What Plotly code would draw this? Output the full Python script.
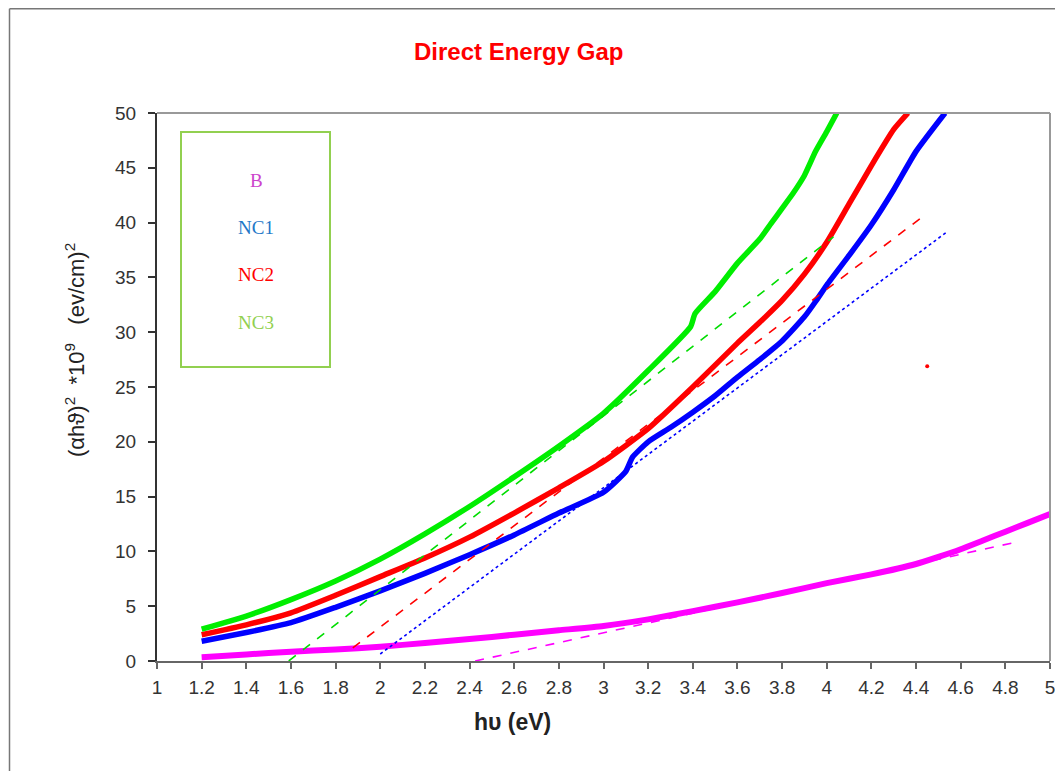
import plotly.graph_objects as go

# ---- data ----
x_b = [1.2, 1.4, 1.6, 1.8, 2.0, 2.2, 2.4, 2.6, 2.8, 3.0, 3.2, 3.4, 3.6, 3.8, 4.0, 4.2, 4.4, 4.5, 4.6, 4.7, 4.8, 4.9, 5.0]
y_b = [0.35, 0.6, 0.85, 1.05, 1.3, 1.65, 2.0, 2.4, 2.8, 3.2, 3.8, 4.55, 5.35, 6.2, 7.1, 7.9, 8.85, 9.5, 10.2, 11.0, 11.8, 12.6, 13.4]

x_nc1 = [1.2, 1.4, 1.6, 1.8, 2.0, 2.2, 2.4, 2.6, 2.8, 3.0, 3.1, 3.13, 3.2, 3.3, 3.4, 3.5, 3.6, 3.7, 3.8, 3.9, 3.95, 4.0, 4.1, 4.2, 4.3, 4.4, 4.53]
y_nc1 = [1.8, 2.6, 3.5, 4.9, 6.4, 8.0, 9.7, 11.5, 13.5, 15.4, 17.3, 18.6, 20.0, 21.3, 22.7, 24.2, 25.9, 27.5, 29.2, 31.4, 32.8, 34.3, 37.0, 39.8, 43.0, 46.5, 50.0]

x_nc2 = [1.2, 1.4, 1.6, 1.8, 2.0, 2.2, 2.4, 2.6, 2.8, 3.0, 3.2, 3.4, 3.6, 3.7, 3.8, 3.9, 4.0, 4.1, 4.2, 4.3, 4.364]
y_nc2 = [2.4, 3.3, 4.4, 6.0, 7.7, 9.4, 11.3, 13.5, 15.8, 18.2, 21.2, 25.0, 29.0, 30.9, 32.9, 35.3, 38.2, 41.7, 45.2, 48.5, 50.0]

x_nc3 = [1.2, 1.4, 1.6, 1.8, 2.0, 2.2, 2.4, 2.6, 2.8, 3.0, 3.2, 3.39, 3.41, 3.5, 3.6, 3.7, 3.75, 3.8, 3.85, 3.9, 3.95, 4.0, 4.045]
y_nc3 = [2.9, 4.1, 5.6, 7.3, 9.3, 11.6, 14.1, 16.8, 19.6, 22.6, 26.5, 30.5, 31.7, 33.7, 36.3, 38.5, 39.9, 41.3, 42.7, 44.3, 46.5, 48.3, 50.0]

# linear fits (tangent lines)
fit_b_x = [2.425, 4.86]
fit_b_y = [0.0, 10.9]
fit_nc1_x = [2.0, 4.535]
fit_nc1_y = [0.64, 39.1]
fit_nc2_x = [1.877, 4.44]
fit_nc2_y = [1.2, 40.7]
fit_nc3_x = [1.59, 4.03]
fit_nc3_y = [0.0, 38.7]

stray_x = [4.45]
stray_y = [26.9]

legend_labels = ["B", "NC1", "NC2", "NC3"]
legend_colors = ["#cc44cc", "#1e78c8", "#ff0000", "#92d050"]

x_ticks = [round(1 + 0.2 * i, 1) for i in range(21)]
x_tick_text = ["1", "1.2", "1.4", "1.6", "1.8", "2", "2.2", "2.4", "2.6", "2.8", "3",
               "3.2", "3.4", "3.6", "3.8", "4", "4.2", "4.4", "4.6", "4.8", "5"]
y_ticks = [0, 5, 10, 15, 20, 25, 30, 35, 40, 45, 50]

fig = go.Figure()

curves = [
    (x_b, y_b, "#ff00ff", 6),
    (x_nc1, y_nc1, "#0000ff", 5.5),
    (x_nc2, y_nc2, "#ff0000", 5.5),
    (x_nc3, y_nc3, "#00ee00", 5.5),
]
for xs, ys, col, w in curves:
    fig.add_trace(go.Scatter(x=xs, y=ys, mode="lines",
                             line=dict(color=col, width=w, shape="spline", smoothing=0.5),
                             showlegend=False, hoverinfo="skip"))

fits = [
    (fit_b_x, fit_b_y, "#ff00ff", "dash"),
    (fit_nc1_x, fit_nc1_y, "#0000ff", "dot"),
    (fit_nc2_x, fit_nc2_y, "#ff0000", "dash"),
    (fit_nc3_x, fit_nc3_y, "#00dd00", "dash"),
]
for xs, ys, col, d in fits:
    fig.add_trace(go.Scatter(x=xs, y=ys, mode="lines",
                             line=dict(color=col, width=1.6, dash=d),
                             showlegend=False, hoverinfo="skip"))

fig.add_trace(go.Scatter(x=stray_x, y=stray_y, mode="markers",
                         marker=dict(color="#ff0000", size=4),
                         showlegend=False, hoverinfo="skip"))

# page offset of the figure (browser body margin)
OFF = 8
W, H = 1063 - OFF, 771 - OFF
L, R, T, B = 157 - OFF, 13, 113 - OFF, 110
pw = W - L - R
ph = H - T - B


def px(xp):
    return (xp - OFF - L) / pw


def py(yp):
    return (H - B - (yp - OFF)) / ph


shapes = [
    # outer frame lines
    dict(type="line", xref="paper", yref="paper", x0=px(9.5), x1=px(9.5), y0=py(8.8), y1=py(780),
         line=dict(color="#777777", width=1.5)),
    dict(type="line", xref="paper", yref="paper", x0=px(9.5), x1=px(1070), y0=py(8.8), y1=py(8.8),
         line=dict(color="#777777", width=1.5)),
    # top and right plot border
    dict(type="line", xref="paper", yref="paper", x0=0, x1=1, y0=1, y1=1,
         line=dict(color="#999999", width=2)),
    dict(type="line", xref="paper", yref="paper", x0=1, x1=1, y0=0, y1=1,
         line=dict(color="#999999", width=2)),
    # legend box
    dict(type="rect", xref="paper", yref="paper", x0=px(181), x1=px(330), y0=py(367), y1=py(132),
         line=dict(color="#92d050", width=2), fillcolor="rgba(0,0,0,0)"),
]

annotations = [
    dict(text="<b>Direct Energy Gap</b>", xref="paper", yref="paper", x=px(518), y=py(52),
         showarrow=False, font=dict(family="Arial, Liberation Sans", size=24, color="#ff0000"),
         xanchor="center", yanchor="middle"),
    dict(text="<b>hυ (eV)</b>", xref="paper", yref="paper", x=px(512), y=py(722),
         showarrow=False, font=dict(family="Arial, Liberation Sans", size=23, color="#222222"),
         xanchor="center", yanchor="middle"),
    dict(text="(αhϑ)<sup>2</sup>  *10<sup>9</sup>   (ev/cm)<sup>2</sup>", xref="paper", yref="paper",
         x=px(75), y=py(350), textangle=-90,
         showarrow=False, font=dict(family="Arial, Liberation Sans", size=22, color="#222222"),
         xanchor="center", yanchor="middle"),
]
legend_y = [180, 227, 274, 322]
for lab, col, yy in zip(legend_labels, legend_colors, legend_y):
    annotations.append(dict(text=lab, xref="paper", yref="paper", x=px(256), y=py(yy),
                            showarrow=False, xanchor="center", yanchor="middle",
                            font=dict(family="Times New Roman, Liberation Serif", size=19, color=col)))

fig.update_layout(
    width=W, height=H,
    margin=dict(l=L, r=R, t=T, b=B, autoexpand=False),
    paper_bgcolor="white", plot_bgcolor="white",
    shapes=shapes, annotations=annotations,
    showlegend=False,
)
fig.update_xaxes(range=[1, 5], tickvals=x_ticks, ticktext=x_tick_text, automargin=False,
                 showgrid=False, zeroline=False, showline=True, linecolor="#666666", linewidth=2,
                 ticks="outside", ticklen=6, tickcolor="#666666", tickwidth=1.5,
                 ticklabelstandoff=2,
                 tickfont=dict(family="Arial, Liberation Sans", size=19, color="#333333"))
fig.update_yaxes(range=[0, 50], tickvals=y_ticks, automargin=False,
                 showgrid=False, zeroline=False, showline=True, linecolor="#333333", linewidth=2,
                 ticks="outside", ticklen=7, tickcolor="#333333", tickwidth=1.5,
                 ticklabelstandoff=8,
                 tickfont=dict(family="Arial, Liberation Sans", size=19, color="#333333"))

fig.write_html("out.html")
